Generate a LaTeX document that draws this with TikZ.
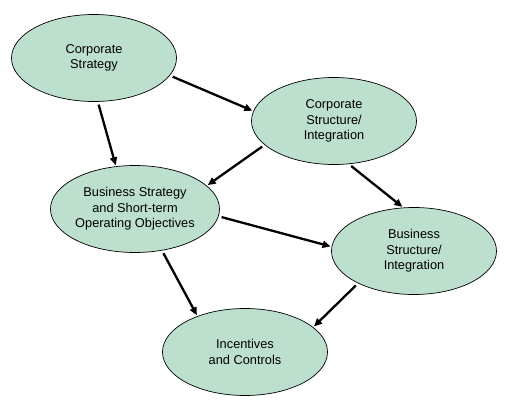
\documentclass[tikz,border=0pt]{standalone}
\usepackage{fontspec}
\setmainfont{Liberation Sans}
\usetikzlibrary{shapes.geometric,arrows.meta}
\definecolor{ellfill}{HTML}{BCE0CD}
\tikzset{
  ell/.style={ellipse, draw=black, line width=0.7pt, fill=ellfill, minimum width=165pt, minimum height=87pt, inner sep=0pt, align=center, font=\fontsize{12.8}{15.5}\selectfont},
  arr/.style={line width=2.3pt, -{Triangle[length=8pt,width=7pt]}, shorten <=3pt, shorten >=1pt}
}
\begin{document}
\begin{tikzpicture}[x=1pt,y=-1pt]
\useasboundingbox (0,0) rectangle (515,412);
\node[ell] (e1) at (94,58) {Corporate\\Strategy};
\node[ell] (e2) at (334,121) {Corporate\\Structure/\\Integration};
\node[ell] (e3) at (135,209) {Business Strategy\\and Short-term\\Operating Objectives};
\node[ell] (e4) at (414,251) {Business\\Structure/\\Integration};
\node[ell] (e5) at (245,352) {Incentives\\and Controls};
\draw[arr] (e1.-13) -- (e2.173);
\draw[arr] (e1.-85) -- (e3.114);
\draw[arr] (e2.199) -- (e3.18);
\draw[arr] (e2.-71) -- (e4.104);
\draw[arr] (e3.-5) -- (e4.177);
\draw[arr] (e3.-57) -- (e5.143);
\draw[arr] (e4.210) -- (e5.20);
\end{tikzpicture}
\end{document}
